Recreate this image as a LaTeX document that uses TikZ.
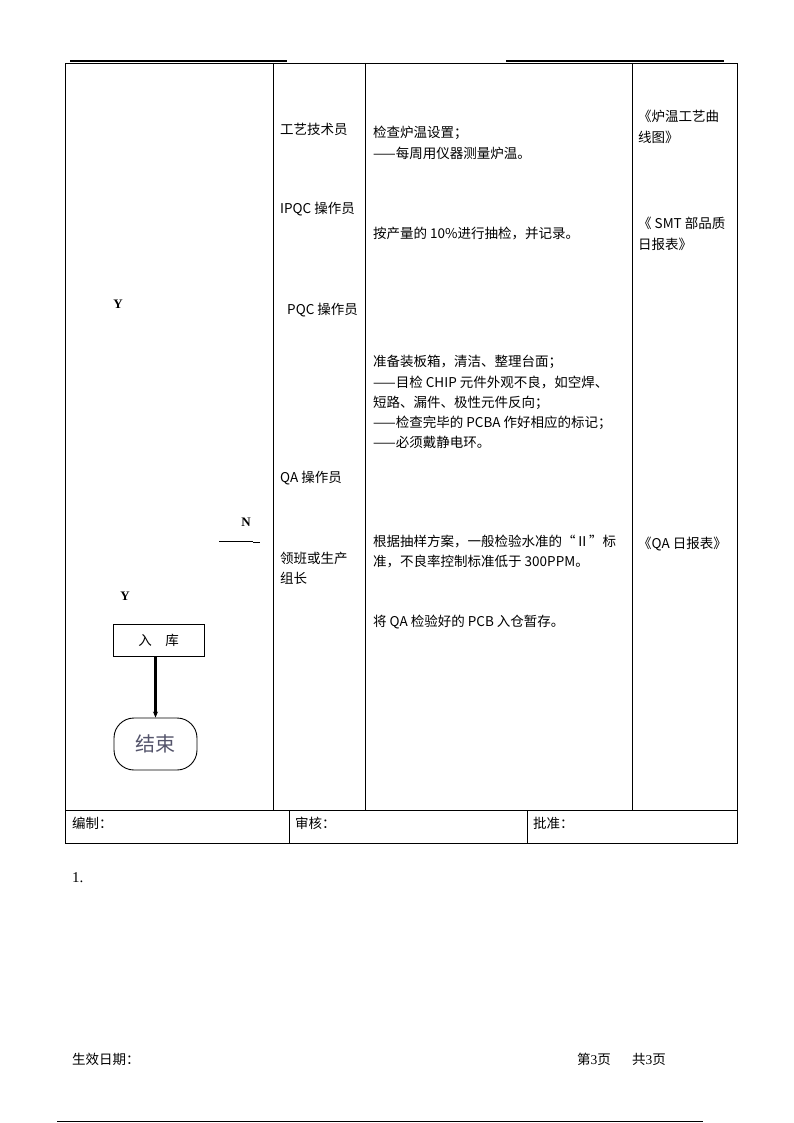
\documentclass[tikz,border=0pt]{standalone}
\usepackage{fontspec}
\setmainfont{Noto Sans CJK SC}
\newfontfamily\tnr{Liberation Serif}
\usetikzlibrary{arrows.meta}
\definecolor{endgray}{rgb}{0.33,0.33,0.42}
\tikzset{
  txt/.style={inner sep=0pt, anchor=base west, font=\fontsize{13.5}{16}\selectfont},
  yn/.style={inner sep=0pt, font=\tnr\bfseries\fontsize{13}{14}\selectfont},
  grid/.style={line width=0.9pt},
  thick top/.style={line width=1.6pt},
  boxnode/.style={draw, line width=0.9pt, minimum width=91pt, minimum height=32pt, inner sep=0pt, font=\fontsize{13.5}{16}\selectfont},
  endnode/.style={draw, line width=0.9pt, rounded corners=20pt, minimum width=83pt, minimum height=52pt, inner sep=0pt, text=endgray, font=\fontsize{20}{22}\selectfont},
  arr/.style={line width=2.2pt, -{Stealth[length=6pt,width=5pt]}}
}
\begin{document}
\begin{tikzpicture}[x=1pt,y=-1pt]
\useasboundingbox (0,0) rectangle (794,1123);
% top decorative lines
\draw[thick top] (70,61) -- (287,61);
\draw[thick top] (506,61) -- (724,61);
% main table
\draw[grid] (65,63) rectangle (737,810);
\draw[grid] (273,63) -- (273,810);
\draw[grid] (365,63) -- (365,810);
\draw[grid] (632,63) -- (632,810);
% sign row
\draw[grid] (65,810) rectangle (737,843);
\draw[grid] (289,810) -- (289,843);
\draw[grid] (527,810) -- (527,843);
% footer line
\draw[line width=0.8pt] (57,1121) -- (703,1121);

% left column flow
\node[yn] (y1) at (118,304) {Y};
\node[yn] (n1) at (246,522) {N};
\draw[line width=0.9pt] (219,541) -- (253,541);
\draw[line width=0.9pt] (253,542.5) -- (260,542.5);
\node[yn] (y2) at (125,596) {Y};
\node[boxnode] (rk) at (158.5,640) {入\hspace{1em}库};
\node[endnode] (end) at (155.5,744) {结束};
\draw[arr] (rk.south -| end.north) -- (end.north);

% column 2
\node[txt] (r1) at (280,135) {工艺技术员};
\node[txt] (r2) at (280,214) {IPQC 操作员};
\node[txt] (r3) at (287,314) {PQC 操作员};
\node[txt] (r4) at (280,482) {QA 操作员};
\node[txt] (r5a) at (280,563) {领班或生产};
\node[txt] (r5b) at (280,583) {组长};

% column 3
\node[txt] (d1a) at (373,138) {检查炉温设置；};
\node[txt] (d1b) at (373,159) {——每周用仪器测量炉温。};
\node[txt] (d2) at (373,238) {按产量的 10\%进行抽检，并记录。};
\node[txt] (d3a) at (373,366) {准备装板箱，清洁、整理台面；};
\node[txt] (d3b) at (373,387) {——目检 CHIP 元件外观不良，如空焊、};
\node[txt] (d3c) at (373,407) {短路、漏件、极性元件反向；};
\node[txt] (d3d) at (373,427) {——检查完毕的 PCBA 作好相应的标记；};
\node[txt] (d3e) at (373,447) {——必须戴静电环。};
\node[txt] (d4a) at (373,546) {根据抽样方案，一般检验水准的“Ⅱ”标};
\node[txt] (d4b) at (373,566) {准，不良率控制标准低于 300PPM。};
\node[txt] (d5) at (373,626) {将 QA 检验好的 PCB 入仓暂存。};

% column 4
\node[txt] (f1a) at (638,122) {《炉温工艺曲};
\node[txt] (f1b) at (638,143) {线图》};
\node[txt] (f2a) at (638,229) {《 SMT 部品质};
\node[txt] (f2b) at (638,249) {日报表》};
\node[txt] (f3) at (638,548) {《QA 日报表》};

% sign row
\node[txt] (s1) at (72,828) {编制：};
\node[txt] (s2) at (295,828) {审核：};
\node[txt] (s3) at (533,828) {批准：};

% below
\node[inner sep=0pt, anchor=base west, font=\tnr\fontsize{15}{17}\selectfont] (one) at (72,882) {1.};
\node[txt] (eff) at (72,1064) {生效日期：};
\node[txt] (pg1) at (577,1064) {第{\tnr 3}页};
\node[txt] (pg2) at (632,1064) {共{\tnr 3}页};
\end{tikzpicture}
\end{document}
